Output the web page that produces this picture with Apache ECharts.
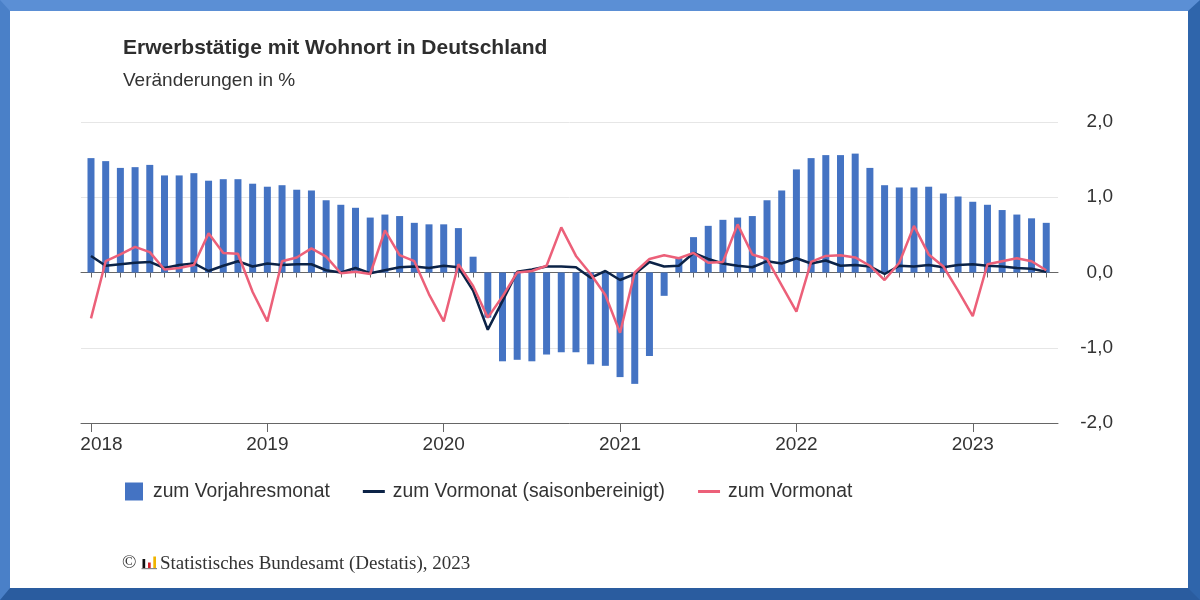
<!DOCTYPE html>
<html>
<head>
<meta charset="utf-8">
<script src="https://cdn.jsdelivr.net/npm/echarts@6/dist/echarts.min.js"></script>
<style>
html,body{margin:0;padding:0;background:#fff;}
#c{position:absolute;left:0;top:0;width:1200px;height:600px;}
#frame{position:absolute;left:0;top:0;width:1200px;height:600px;box-sizing:border-box;border-style:solid;border-width:11px 12px 12px 10px;border-color:#5b8fd5 #2f65ab #2a5c9f #4a80c8;pointer-events:none;}
</style>
</head>
<body>
<div id="c"></div>
<div id="frame"></div>
<script>
// Monthly categories, Jan 2018 – Jun 2023
const months = [
  '2018-01','2018-02','2018-03','2018-04','2018-05','2018-06','2018-07','2018-08','2018-09','2018-10','2018-11','2018-12',
  '2019-01','2019-02','2019-03','2019-04','2019-05','2019-06','2019-07','2019-08','2019-09','2019-10','2019-11','2019-12',
  '2020-01','2020-02','2020-03','2020-04','2020-05','2020-06','2020-07','2020-08','2020-09','2020-10','2020-11','2020-12',
  '2021-01','2021-02','2021-03','2021-04','2021-05','2021-06','2021-07','2021-08','2021-09','2021-10','2021-11','2021-12',
  '2022-01','2022-02','2022-03','2022-04','2022-05','2022-06','2022-07','2022-08','2022-09','2022-10','2022-11','2022-12',
  '2023-01','2023-02','2023-03','2023-04','2023-05','2023-06'
];
// zum Vorjahresmonat (bars)
const vorjahresmonat = [
  1.52,1.48,1.39,1.40,1.43,1.29,1.29,1.32,1.22,1.24,1.24,1.18,
  1.14,1.16,1.10,1.09,0.96,0.90,0.86,0.73,0.77,0.75,0.66,0.64,
  0.64,0.59,0.21,-0.60,-1.18,-1.16,-1.18,-1.09,-1.06,-1.06,-1.22,-1.24,
  -1.39,-1.48,-1.11,-0.31,0.19,0.47,0.62,0.70,0.73,0.75,0.96,1.09,
  1.37,1.52,1.56,1.56,1.58,1.39,1.16,1.13,1.13,1.14,1.05,1.01,
  0.94,0.90,0.83,0.77,0.72,0.66
];
// zum Vormonat (saisonbereinigt)
const vormonatSaison = [
  0.22,0.09,0.11,0.13,0.14,0.06,0.10,0.12,0.02,0.09,0.15,0.08,
  0.12,0.10,0.11,0.11,0.03,0.00,0.06,-0.01,0.03,0.07,0.08,0.06,
  0.09,0.07,-0.24,-0.76,-0.38,0.01,0.04,0.08,0.08,0.07,-0.07,0.02,
  -0.10,-0.02,0.14,0.08,0.09,0.26,0.18,0.12,0.09,0.07,0.15,0.12,
  0.19,0.12,0.16,0.09,0.10,0.08,-0.02,0.09,0.08,0.10,0.07,0.10,
  0.11,0.09,0.08,0.06,0.05,0.01
];
// zum Vormonat
const vormonat = [
  -0.61,0.15,0.24,0.34,0.27,0.04,0.06,0.10,0.52,0.26,0.25,-0.26,
  -0.65,0.15,0.20,0.32,0.21,-0.01,0.01,-0.02,0.56,0.23,0.15,-0.29,
  -0.65,0.11,-0.18,-0.60,-0.32,0.00,0.02,0.09,0.60,0.22,-0.02,-0.30,
  -0.80,0.00,0.18,0.23,0.19,0.26,0.13,0.14,0.64,0.24,0.18,-0.17,
  -0.52,0.14,0.22,0.23,0.20,0.09,-0.10,0.13,0.62,0.24,0.08,-0.24,
  -0.58,0.11,0.15,0.19,0.15,0.03
];
// tick labels
const yearLabels = ['2018','2019','2020','2021','2022','2023'];
const yearFirstMonth = ['2018-01','2019-01','2020-01','2021-01','2022-01','2023-01'];
const yTicks = [-2,-1,0,1,2];
const yTickLabels = ['-2,0','-1,0','0,0','1,0','2,0'];
const seriesNames = ['zum Vorjahresmonat','zum Vormonat (saisonbereinigt)','zum Vormonat'];

const monthIdx = months.map((m,i)=>i);
const yearIdx = yearFirstMonth.map(m=>months.indexOf(m));
const toPairs = arr => arr.map((v,i)=>[i,v]);

const chart = echarts.init(document.getElementById('c'), null, {renderer:'canvas'});
const FONT = "'Liberation Sans', Arial, sans-serif";
const SERIF = "'Liberation Serif', 'Times New Roman', serif";
const grid = {left:81, right:142, top:122, bottom:177};

chart.setOption({
  animation:false,
  backgroundColor:'#ffffff',
  textStyle:{fontFamily:FONT},
  title:[
    {text:'Erwerbstätige mit Wohnort in Deutschland', left:123, top:38, padding:0,
     textStyle:{fontFamily:FONT, fontSize:21, fontWeight:'bold', color:'#2e2e2e'}},
    {text:'Veränderungen in %', left:123, top:71, padding:0,
     textStyle:{fontFamily:FONT, fontSize:19, fontWeight:'normal', color:'#333'}}
  ],
  legend:{
    left:125, top:482, padding:0, itemWidth:22, itemHeight:18, itemGap:33,
    textStyle:{fontFamily:FONT, fontSize:19.3, color:'#333', padding:[0,0,0,3]},
    data:[
      {name:seriesNames[0], icon:'path://M0,0h10v10h-10z'},
      {name:seriesNames[1], icon:'path://M0,0h22v3h-22z'},
      {name:seriesNames[2], icon:'path://M0,0h22v3h-22z'}
    ]
  },
  grid:grid,
  xAxis:[
    {type:'value', min:-0.68, max:65.8, position:'bottom',
     axisLine:{show:true, lineStyle:{color:'#666', width:1}},
     axisTick:{show:true, length:5, lineStyle:{color:'#666'}, customValues:monthIdx},
     axisLabel:{show:false},
     splitLine:{show:false}},
    {type:'value', min:-0.68, max:65.8, position:'bottom',
     axisLine:{show:true, lineStyle:{color:'#666', width:1}},
     axisTick:{show:true, length:9, lineStyle:{color:'#666'}, customValues:yearIdx},
     axisLabel:{show:true, customValues:yearIdx, margin:12,
       formatter:function(v){
         const k = yearIdx.indexOf(v);
         if(k<0) return '';
         return k===0 ? '{f|'+yearLabels[k]+'}' : '{n|'+yearLabels[k]+'}';
       },
       rich:{
         f:{fontFamily:FONT, fontSize:19, color:'#333', padding:[0,0,0,21]},
         n:{fontFamily:FONT, fontSize:19, color:'#333'}
       }},
     splitLine:{show:false}}
  ],
  yAxis:{
    type:'value', position:'right', min:-2, max:2, interval:1,
    axisLine:{show:false}, axisTick:{show:false},
    axisLabel:{fontFamily:FONT, fontSize:19, color:'#333', align:'right', margin:55,
      formatter:function(v){ const k=yTicks.indexOf(v); return k<0?'':yTickLabels[k]; }},
    splitLine:{show:true, lineStyle:{color:['#e6e6e6','#e6e6e6','#707070','#e6e6e6','#e6e6e6'], width:1}}
  },
  series:[
    {name:seriesNames[0], type:'bar', xAxisIndex:0, data:toPairs(vorjahresmonat),
     barWidth:7, itemStyle:{color:'#4473c3'}},
    {name:seriesNames[1], type:'line', xAxisIndex:0, data:toPairs(vormonatSaison),
     symbol:'none', lineStyle:{color:'#0c2347', width:2.5}, itemStyle:{color:'#0c2347'}},
    {name:seriesNames[2], type:'line', xAxisIndex:0, data:toPairs(vormonat),
     symbol:'none', lineStyle:{color:'#ec6079', width:2.5}, itemStyle:{color:'#ec6079'}}
  ],
  graphic:[
    {type:'text', left:122, top:554, style:{text:'©', fontFamily:SERIF, fontSize:19, fill:'#333'}},
    {type:'rect', shape:{x:142.5, y:559, width:2.7, height:9}, style:{fill:'#111'}},
    {type:'rect', shape:{x:148, y:562.5, width:2.7, height:5.5}, style:{fill:'#d4202a'}},
    {type:'rect', shape:{x:153.3, y:556.5, width:2.7, height:11.5}, style:{fill:'#f0b400'}},
    {type:'rect', shape:{x:141.5, y:568, width:15.5, height:1.2}, style:{fill:'#888'}},
    {type:'text', left:160, top:555, style:{text:'Statistisches Bundesamt (Destatis), 2023', fontFamily:SERIF, fontSize:19, fill:'#333'}}
  ]
});
</script>
</body>
</html>
